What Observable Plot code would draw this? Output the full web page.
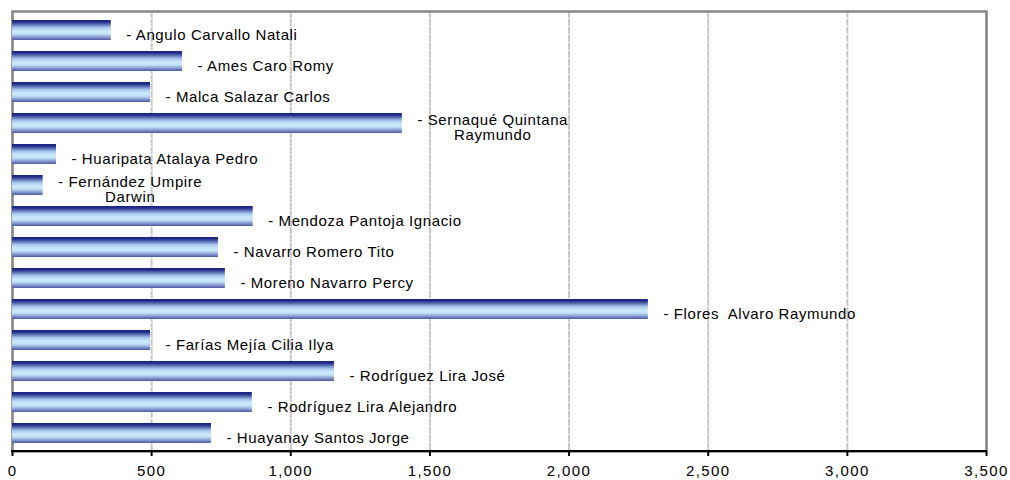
<!DOCTYPE html>
<html><head><meta charset="utf-8">
<script src="https://cdn.jsdelivr.net/npm/d3@7"></script>
<script src="https://cdn.jsdelivr.net/npm/@observablehq/plot@0.6"></script>
<style>body{margin:0;background:#fff}</style>
</head><body><div id="chart"></div>
<script>
const names = ["Angulo Carvallo Natali","Ames Caro Romy","Malca Salazar Carlos","Sernaqué Quintana Raymundo","Huaripata Atalaya Pedro","Fernández Umpire Darwin","Mendoza Pantoja Ignacio","Navarro Romero Tito","Moreno Navarro Percy","Flores Alvaro Raymundo","Farías Mejía Cilia Ilya","Rodríguez Lira José","Rodríguez Lira Alejandro","Huayanay Santos Jorge"];
const values = [355, 611, 496, 1401, 158, 110, 865, 740, 765, 2285, 496, 1157, 862, 715];
const labels = ["- Angulo Carvallo Natali","- Ames Caro Romy","- Malca Salazar Carlos","- Sernaqué Quintana\nRaymundo","- Huaripata Atalaya Pedro","- Fernández Umpire\nDarwin","- Mendoza Pantoja Ignacio","- Navarro Romero Tito","- Moreno Navarro Percy","- Flores  Alvaro Raymundo","- Farías Mejía Cilia Ilya","- Rodríguez Lira José","- Rodríguez Lira Alejandro","- Huayanay Santos Jorge"];
const xTicks = [0, 500, 1000, 1500, 2000, 2500, 3000, 3500];

const data = names.map((n, i) => ({name: n, value: values[i], label: labels[i]}));

const chart = Plot.plot({
  width: 1010, height: 480,
  marginLeft: 12, marginRight: 24, marginTop: 11, marginBottom: 29,
  style: {fontFamily: "'Liberation Sans', Arial, sans-serif", fontSize: "15px", background: "#fff", color: "#000"},
  x: {domain: [0, 3500], ticks: xTicks, tickFormat: d3.format(","), label: null},
  y: {domain: names, paddingInner: 0.36, paddingOuter: 0.18, axis: null},
  marks: [
    Plot.gridX(xTicks, {stroke: "#c8c8c8", strokeOpacity: 1, strokeWidth: 2, strokeDasharray: "7,1"}),
    Plot.frame({stroke: "#868686", strokeWidth: 2.5}),
    Plot.barX(data, {x: "value", y: "name", fill: "url(#barGrad)"}),
    Plot.text(data, {x: "value", y: "name", text: "label", dx: 15, dy: 4, textAnchor: "start", fill: "#000", fontSize: 15, lineHeight: 1.05}),
    Plot.axisX(xTicks, {tickSize: 5, tickPadding: 9, tickFormat: d3.format(","), stroke: "#000", strokeWidth: 2, fill: "#000", fontSize: 15, label: null})
  ]
});

document.getElementById("chart").append(chart);
const svg = d3.select(chart);
const defs = svg.insert("defs", ":first-child");
const grad = defs.append("linearGradient").attr("id", "barGrad")
  .attr("x1", 0).attr("x2", 0).attr("y1", 0).attr("y2", 1);
[[0, "#1b237d"], [0.1, "#232d88"], [0.22, "#5a6fb4"], [0.38, "#a6c6ec"], [0.55, "#cbe9fd"], [0.7, "#c3e2f8"], [0.85, "#8a9dd0"], [1, "#4b58a0"]]
  .forEach(([o, c]) => grad.append("stop").attr("offset", o).attr("stop-color", c));

svg.selectAll('g[aria-label="x-axis tick label"] text').attr("letter-spacing", "1.4px");
svg.selectAll('g[aria-label="text"] text').attr("letter-spacing", "0.6px");

// bottom axis line, drawn from the x scale
const xs = chart.scale("x");
svg.append("line")
  .attr("x1", xs.apply(0) - 1).attr("x2", xs.apply(3500) + 1)
  .attr("y1", 480 - 29).attr("y2", 480 - 29)
  .attr("stroke", "#000").attr("stroke-width", 2.2);

// center multi-line labels
svg.selectAll('g[aria-label="text"] text').each(function() {
  const tspans = this.querySelectorAll("tspan");
  if (tspans.length > 1) {
    const w = this.getBBox().width;
    this.setAttribute("text-anchor", "middle");
    tspans.forEach(t => t.setAttribute("x", w / 2));
  }
});
</script>
</body></html>
